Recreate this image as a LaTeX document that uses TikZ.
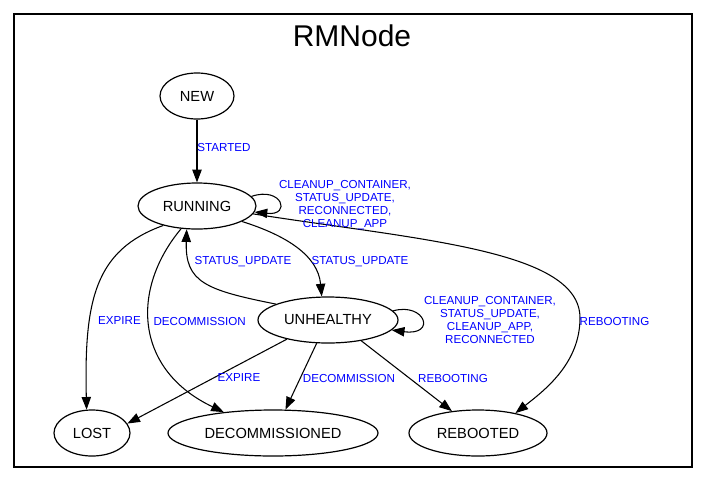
\documentclass[tikz,border=0pt]{standalone}
\usepackage{fontspec}
\setmainfont{Liberation Sans}
\usetikzlibrary{shapes.geometric,arrows.meta}
\begin{document}
\begin{tikzpicture}[x=0.75pt,y=-0.75pt,
  state/.style={ellipse,draw,line width=0.9pt,inner sep=0pt,minimum height=34.5pt,font=\fontsize{11}{13}\selectfont},
  edge/.style={draw,line width=0.8pt,-{Triangle[length=9.5pt,width=7pt]}},
  lbl/.style={text=blue,inner sep=0pt,align=center,font=\fontsize{8.7}{9.75}\selectfont}]
\useasboundingbox[fill=white] (0,0) rectangle (707,483);
\draw[line width=0.8pt] (14,14) rectangle (692,467);
\node[inner sep=0pt,font=\fontsize{22.5}{26}\selectfont] (title) at (352,36) {RMNode};

\node[state,minimum width=55.5pt] (new) at (197,96) {NEW};
\node[state,minimum width=88.5pt] (running) at (197,206) {RUNNING};
\node[state,minimum width=105pt] (unhealthy) at (328,320) {UNHEALTHY};
\node[state,minimum width=57pt] (lost) at (92,433) {LOST};
\node[state,minimum width=157.5pt] (decom) at (273,433) {DECOMMISSIONED};
\node[state,minimum width=103.5pt] (rebooted) at (478,433) {REBOOTED};

\path[edge] (new) -- (running);
\path[edge] (running.10) .. controls (282,186) and (292,216) .. (running.-6);
\path[edge] (running.-19) .. controls (285,235) and (318,255) .. (unhealthy.105);
\path[edge] (unhealthy.163) .. controls (205,290) and (185,282) .. (running.246);
\path[edge] (running.210) .. controls (95,250) and (84,300) .. (lost.103);
\path[edge] (running.235) .. controls (130,290) and (135,370) .. (decom.157);
\path[edge] (unhealthy.8) .. controls (425,302) and (437,336) .. (unhealthy.-9);
\path[edge] (running.-8) .. controls (420,240) and (580,250) .. (580,318)
   .. controls (580,363) and (545,390) .. (rebooted.28);
\path[edge] (unhealthy.205) -- (lost.15);
\path[edge] (unhealthy.244) -- (decom.62);
\path[edge] (unhealthy.328) -- (rebooted.140);

\node[lbl] (l1) at (224,148) {STARTED};
\node[lbl] (l2) at (345,205.5) {CLEANUP\_CONTAINER,\\STATUS\_UPDATE,\\RECONNECTED,\\CLEANUP\_APP};
\node[lbl] (l3) at (360,262) {STATUS\_UPDATE};
\node[lbl] (l4) at (243,262) {STATUS\_UPDATE};
\node[lbl] (l5) at (119.5,321) {EXPIRE};
\node[lbl] (l6) at (199.6,321) {DECOMMISSION};
\node[lbl] (l7) at (490,320) {CLEANUP\_CONTAINER,\\STATUS\_UPDATE,\\CLEANUP\_APP,\\RECONNECTED};
\node[lbl] (l8) at (614.5,321) {REBOOTING};
\node[lbl] (l9) at (239,378) {EXPIRE};
\node[lbl] (l10) at (349,378) {DECOMMISSION};
\node[lbl] (l11) at (453,378) {REBOOTING};
\end{tikzpicture}
\end{document}
